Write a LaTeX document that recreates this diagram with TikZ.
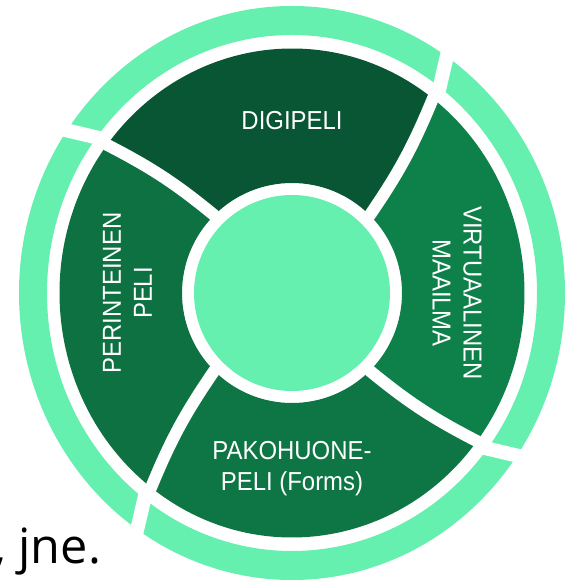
\documentclass[tikz,border=0pt]{standalone}
\usepackage{fontspec}
\setmainfont{Liberation Sans}
\newfontfamily\slidefont{Open Sans}
\usetikzlibrary{positioning}

\definecolor{mint}{RGB}{102,240,176}
\definecolor{pineTop}{RGB}{9,86,52}
\definecolor{pineLeft}{RGB}{13,113,65}
\definecolor{pineRight}{RGB}{14,128,73}
\definecolor{pineBot}{RGB}{13,118,68}

\begin{document}
\begin{tikzpicture}[
	x=1pt, y=1pt,
	seg/.style = {fill=#1},
	cut/.style = {draw=white, line width=#1},
	lbl/.style = {text=white, inner sep=0pt, align=center,
		font=\fontsize{26}{31}\selectfont, rotate=#1, xscale=.92},
	lbl/.default = 0
	]
	\useasboundingbox (-292,-287) rectangle (281,293);
	
	% outer ring
	\fill[mint, even odd rule] (0,0) ellipse [x radius=273pt, y radius=287pt]
		(0,0) ellipse [x radius=245pt, y radius=258pt];
	% the four swirled segments
	\foreach \a/\c in {45/pineTop, 135/pineLeft, 225/pineBot, 315/pineRight}
		\fill[seg=\c] (\a:110pt) to[bend right=6] (\a+7.7:232.5pt and 244.5pt)
			arc[start angle=\a+7.7, end angle=\a+97.7, x radius=232.5pt, y radius=244.5pt]
			to[bend left=6] (\a+90:110pt)
			arc[start angle=\a+90, end angle=\a, radius=110pt] -- cycle;
	% white cuts
	\foreach \a in {45,135,225,315} {
		\draw[cut=12pt, line cap=round] (\a:110pt) to[bend right=6] (\a+7.7:232.5pt and 244.5pt);
		\draw[cut=14pt] (\a+7.4:240pt and 253pt) -- (\a+11.1:281pt and 295pt);
	}
	
	\node (hub) [circle, fill=mint, minimum size=196pt, inner sep=0pt] at (0,0) {};
	%
	\node (digi) [lbl] at (0,172) {DIGIPELI};
	\node (perint) [lbl=90] at (-164.5,0) {PERINTEINEN\\PELI};
	\node (virt) [lbl=-90] at (165,0) {VIRTUAALINEN\\MAAILMA};
	\node (pako) [lbl, anchor=north] at (0,-148) {PAKOHUONE-\\PELI (Forms)};
	\node (jne) [anchor=base west, inner sep=0pt,
		font=\slidefont\fontsize{48.6}{58}\selectfont] at (-298,-270) {, jne.};
\end{tikzpicture}
\end{document}
